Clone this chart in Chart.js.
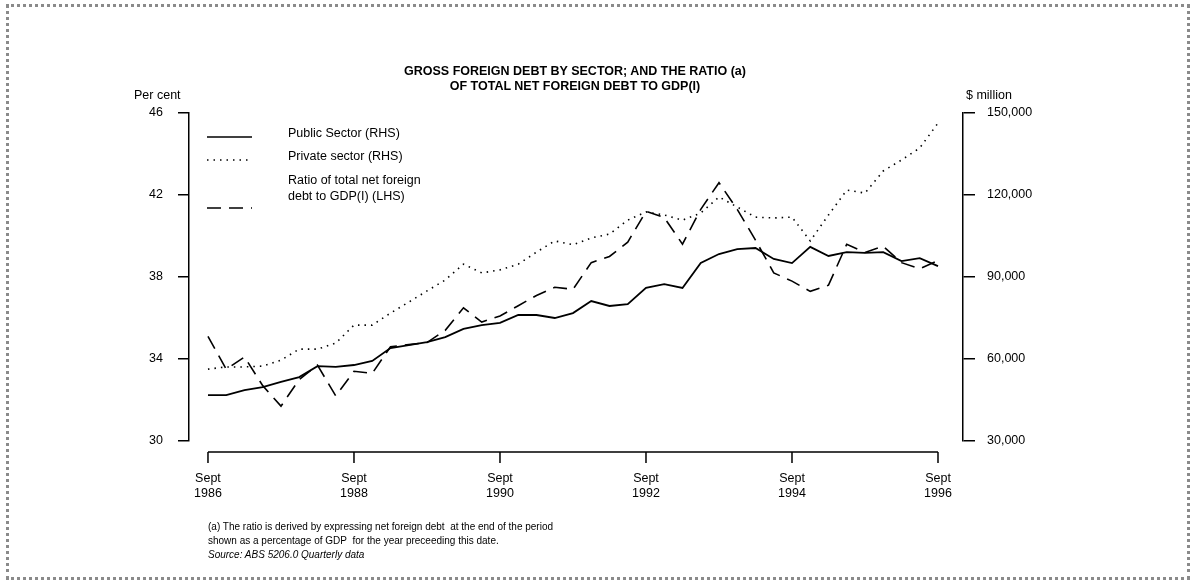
<!DOCTYPE html>
<html>
<head>
<meta charset="utf-8">
<title>Gross foreign debt by sector</title>
<script src="https://cdn.jsdelivr.net/npm/chart.js@4.4.1/dist/chart.umd.min.js"></script>
<style>
  html, body { margin: 0; padding: 0; background: #fff; }
  body { width: 1196px; height: 586px; position: relative; overflow: hidden;
         font-family: "Liberation Sans", Arial, Helvetica, sans-serif; color: #000; }
  #frame { position: absolute; left: 6px; top: 4px; width: 1178px; height: 570px;
           border: 3px dotted #8a8a8a; }
  #chart { position: absolute; left: 0; top: 0; }
  .txt { position: absolute; white-space: nowrap; line-height: 1; }
  .title { font-weight: bold; font-size: 12.5px; left: 0; width: 1150px; text-align: center; }
  .unit { font-size: 12.5px; }
  .note { font-size: 10px; left: 208px; }
</style>
</head>
<body>
<div id="frame"></div>
<canvas id="chart" width="1196" height="586"></canvas>
<div class="txt title" style="top:65px">GROSS FOREIGN DEBT BY SECTOR; AND THE RATIO (a)</div>
<div class="txt title" style="top:80px">OF TOTAL NET FOREIGN DEBT TO GDP(I)</div>
<div class="txt unit" style="left:134px; top:89px">Per cent</div>
<div class="txt unit" style="left:966px; top:89px">$ million</div>
<div class="txt note" style="top:522px">(a) The ratio is derived by expressing net foreign debt&nbsp; at the end of the period</div>
<div class="txt note" style="top:536px">shown as a percentage of GDP&nbsp; for the year preceeding this date.</div>
<div class="txt note" style="top:550px; font-style:italic">Source: ABS 5206.0 Quarterly data</div>
<script>
// quarterly, Sept 1986 .. Sept 1996
const publicSector = [46800, 46800, 48600, 49700, 51600, 53400, 57400, 57100, 57800, 59300, 64000,
  65100, 66200, 68000, 71000, 72400, 73200, 76100, 76100, 75000, 76800,
  81200, 79400, 80100, 86000, 87400, 86000, 95100, 98400, 100200, 100600,
  96600, 95100, 101000, 97700, 99100, 98800, 99100, 95800, 96900, 94000];
const privateSector = [56300, 57100, 57100, 57400, 59600, 63600, 63600, 65800, 72400, 72400, 76800,
  80800, 84900, 88900, 94700, 91500, 92600, 94700, 99100, 103200, 101800,
  104300, 105700, 110800, 113800, 112700, 110800, 113400, 119300, 115600, 111900,
  111600, 111900, 103200, 112700, 121800, 120700, 128800, 132800, 137200, 146300];
const netDebtRatio = [35.1, 33.5, 34.1, 32.7, 31.7, 33.0, 33.7, 32.2, 33.4, 33.3, 34.6,
  34.7, 34.8, 35.4, 36.5, 35.8, 36.1, 36.6, 37.1, 37.5, 37.4,
  38.7, 39.0, 39.7, 41.2, 40.9, 39.6, 41.3, 42.6, 41.3, 39.8,
  38.2, 37.8, 37.3, 37.6, 39.6, 39.2, 39.5, 38.7, 38.4, 38.8];

const xTickPositions = [0, 8, 16, 24, 32, 40];
const xTickLabels = [['Sept', '1986'], ['Sept', '1988'], ['Sept', '1990'],
  ['Sept', '1992'], ['Sept', '1994'], ['Sept', '1996']];
const leftTicks = [30, 34, 38, 42, 46];
const rightTicks = [30000, 60000, 90000, 120000, 150000];

const legendItems = [
  { text: ['Public Sector (RHS)'], dash: [], y: 137 },
  { text: ['Private sector (RHS)'], dash: [1.5, 5], y: 160 },
  { text: ['Ratio of total net foreign', 'debt to GDP(I) (LHS)'], dash: [14, 8], y: 208 }
];

const toPoints = arr => arr.map((v, i) => ({ x: i, y: v }));
const FONT = { family: '"Liberation Sans", Arial, Helvetica, sans-serif', size: 12.5 };

// x axis line sits below the plot, with its own tick marks
const customDraw = {
  id: 'customDraw',
  afterDraw(chart) {
    const ctx = chart.ctx;
    const xs = chart.scales.x;
    const yAxis = chart.chartArea.bottom + 11;
    ctx.save();
    ctx.strokeStyle = '#000';
    ctx.lineWidth = 1.5;
    ctx.beginPath();
    ctx.moveTo(xs.getPixelForValue(0), yAxis);
    ctx.lineTo(xs.getPixelForValue(40), yAxis);
    xTickPositions.forEach(v => {
      const px = xs.getPixelForValue(v);
      ctx.moveTo(px, yAxis);
      ctx.lineTo(px, yAxis + 11);
    });
    ctx.stroke();

    // legend
    ctx.font = '12.5px ' + FONT.family;
    ctx.fillStyle = '#000';
    ctx.textBaseline = 'middle';
    legendItems.forEach((item, k) => {
      ctx.beginPath();
      ctx.setLineDash(item.dash);
      ctx.lineWidth = 1.6;
      ctx.moveTo(207, item.y);
      ctx.lineTo(252, item.y);
      ctx.stroke();
      ctx.setLineDash([]);
      const ty = k === 2 ? 181 : item.y - 3;
      item.text.forEach((t, j) => ctx.fillText(t, 288, ty + j * 16));
    });
    ctx.restore();
  }
};

new Chart(document.getElementById('chart'), {
  type: 'line',
  data: {
    datasets: [
      { label: 'Public Sector (RHS)', data: toPoints(publicSector), yAxisID: 'y1',
        borderColor: '#000', borderWidth: 1.8, pointRadius: 0, tension: 0 },
      { label: 'Private sector (RHS)', data: toPoints(privateSector), yAxisID: 'y1',
        borderColor: '#000', borderWidth: 1.6, borderDash: [1.5, 5], pointRadius: 0, tension: 0 },
      { label: 'Ratio of total net foreign debt to GDP(I) (LHS)', data: toPoints(netDebtRatio), yAxisID: 'y',
        borderColor: '#000', borderWidth: 1.6, borderDash: [14, 8], pointRadius: 0, tension: 0 }
    ]
  },
  options: {
    responsive: false,
    animation: false,
    devicePixelRatio: 1,
    layout: { padding: { left: 129, right: 153, top: 113, bottom: 85 } },
    plugins: { legend: { display: false }, title: { display: false }, tooltip: { enabled: false } },
    scales: {
      x: {
        type: 'linear', min: -1.04, max: 41.37,
        grid: { display: false },
        border: { display: false },
        afterBuildTicks: s => { s.ticks = xTickPositions.map(v => ({ value: v })); },
        afterFit: s => { s.height = 60; },
        ticks: { color: '#000', font: FONT, padding: 22, maxRotation: 0, autoSkip: false,
          callback: (v, i) => xTickLabels[i] }
      },
      y: {
        position: 'left', min: 30, max: 46,
        afterBuildTicks: s => { s.ticks = leftTicks.map(v => ({ value: v })); },
        afterFit: s => { s.width = 60; },
        grid: { drawOnChartArea: false, color: '#000', tickLength: 11, lineWidth: 1.5 },
        border: { color: '#000', width: 1.5 },
        ticks: { color: '#000', font: FONT, padding: 15 }
      },
      y1: {
        position: 'right', min: 30000, max: 150000,
        afterBuildTicks: s => { s.ticks = rightTicks.map(v => ({ value: v })); },
        afterFit: s => { s.width = 80; },
        grid: { drawOnChartArea: false, color: '#000', tickLength: 12, lineWidth: 1.5 },
        border: { color: '#000', width: 1.5 },
        ticks: { color: '#000', font: FONT, padding: 12,
          callback: v => v.toLocaleString('en-US') }
      }
    }
  },
  plugins: [customDraw]
});
</script>
</body>
</html>
